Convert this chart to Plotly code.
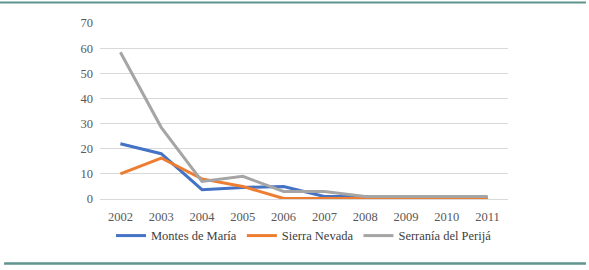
import plotly.graph_objects as go

years = ["2002", "2003", "2004", "2005", "2006", "2007", "2008", "2009", "2010", "2011"]
montes = [22, 18, 3.7, 4.6, 5, 1, 1, 1, 0.8, 0.6]
sierra = [10, 16.3, 8, 5, 0.2, 0.2, 0.3, 0.3, 0.3, 0.3]
perija = [58.4, 28.5, 7, 9, 3, 3, 1, 1, 1, 1]
names = ["Montes de María", "Sierra Nevada", "Serranía del Perijá"]
colors = ["#4472C4", "#ED7D31", "#A5A5A5"]

fig = go.Figure()
for name, vals, col in zip(names, [montes, sierra, perija], colors):
    fig.add_trace(go.Scatter(x=years, y=vals, name=name, mode="lines",
                             line=dict(color=col, width=3)))

font_family = "Liberation Serif, DejaVu Serif, serif"
fig.update_layout(
    width=589, height=270,
    margin=dict(l=100, r=81, t=23, b=71),
    paper_bgcolor="white", plot_bgcolor="white",
    font=dict(family=font_family, color="#595959", size=12),
    showlegend=True,
    legend=dict(orientation="h", x=0.5, xanchor="center", y=-0.21, yanchor="middle",
                font=dict(size=12.5, color="#404040"), tracegroupgap=0),
    xaxis=dict(type="category", range=[-0.5, 9.5], showgrid=False, showline=False,
               zeroline=False, ticks="", tickfont=dict(size=12.5), ticklabelstandoff=8),
    yaxis=dict(range=[0, 70], dtick=10, showgrid=True, gridcolor="#D9D9D9", gridwidth=1,
               zeroline=True, zerolinecolor="#D9D9D9", zerolinewidth=1, showline=False,
               ticks="", tickfont=dict(size=12.5), ticklabelstandoff=6),
    shapes=[
        dict(type="line", xref="paper", yref="paper", x0=-0.245, x1=1.191, y0=1.116, y1=1.116,
             line=dict(color="#5E938E", width=2)),
        dict(type="line", xref="paper", yref="paper", x0=-0.235, x1=1.191, y0=-0.366, y1=-0.366,
             line=dict(color="#5E938E", width=2.5)),
    ],
)
fig.write_html("out.html", config={"displayModeBar": False},
               post_script="document.body.style.margin='0';")
